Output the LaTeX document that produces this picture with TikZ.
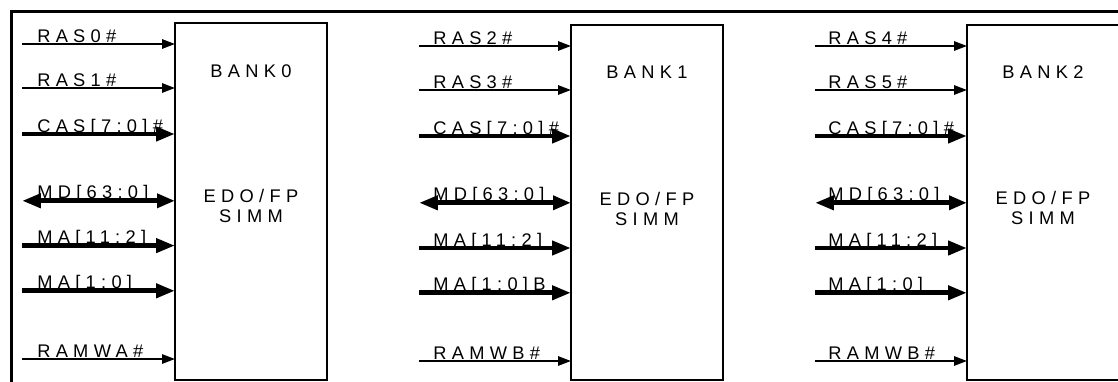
\documentclass[tikz,border=0pt]{standalone}
\usepackage{fontspec}
\newfontfamily\banksf[LetterSpace=29]{Liberation Sans}
\usetikzlibrary{arrows.meta}

\begin{document}
\begin{tikzpicture}[
  font=\banksf\fontsize{13pt}{14.2pt}\selectfont,
  bank/.style={rectangle, draw, line width=1.4pt, anchor=north west, inner sep=0pt, outer sep=0pt, minimum width=3.8cm},
  sig/.style={anchor=base west, inner sep=0pt},
  one/.style={line width=1.3pt, -{Triangle[length=0.32cm, width=0.23cm]}},
  bus/.style={line width=3.4pt, -{Triangle[length=0.47cm, width=0.34cm]}},
  bidi/.style={line width=3.4pt, {Triangle[length=0.47cm, width=0.34cm]}-{Triangle[length=0.45cm, width=0.34cm]}}
]
\clip (0,0) rectangle (27.95,-9.525);
\draw[line width=2.3pt] (0.28,-10) |- (28.5,-0.29);
% banks
\node[bank, minimum height=8.925cm] (k0) at (4.375,-0.575)  {};
\node[bank, minimum height=8.875cm] (k1) at (14.275,-0.625) {};
\node[bank, minimum height=8.875cm] (k2) at (24.175,-0.625) {};
\node (t0) at (6.275,-1.79)  {BANK0};
\node (t1) at (16.175,-1.81) {BANK1};
\node (t2) at (26.075,-1.80) {BANK2};
\node[align=center] (e0) at (6.275,-5.14)  {EDO/FP\\SIMM};
\node[align=center] (e1) at (16.175,-5.22) {EDO/FP\\SIMM};
\node[align=center] (e2) at (26.075,-5.20) {EDO/FP\\SIMM};
% bank 0 signals
\coordinate (ras0) at (0.55,-1.1);   \node[sig] (ras0t) at (0.925,-1.05)  {RAS0\#};
\coordinate (ras1) at (0.55,-2.2);   \node[sig] (ras1t) at (0.925,-2.15)  {RAS1\#};
\coordinate (cas0) at (0.55,-3.35);  \node[sig] (cas0t) at (0.925,-3.30)  {CAS[7:0]\#};
\coordinate (md0)  at (0.55,-5.02);  \node[sig] (md0t)  at (0.925,-4.97)  {MD[63:0]};
\coordinate (mah0) at (0.55,-6.14);  \node[sig] (mah0t) at (0.925,-6.09)  {MA[11:2]};
\coordinate (mal0) at (0.55,-7.27);  \node[sig] (mal0t) at (0.925,-7.22)  {MA[1:0]};
\coordinate (we0)  at (0.55,-8.975); \node[sig] (we0t)  at (0.925,-8.925) {RAMWA\#};
\draw[one] (ras0)--(ras0 -| k0.west); \draw[one] (ras1)--(ras1 -| k0.west);
\draw[bus] (cas0)--(cas0 -| k0.west); \draw[bidi] (md0)--(md0 -| k0.west);
\draw[bus] (mah0)--(mah0 -| k0.west); \draw[bus] (mal0)--(mal0 -| k0.west);
\draw[one] (we0)--(we0 -| k0.west);
% bank 1 signals
\coordinate (ras2) at (10.475,-1.15);  \node[sig] (ras2t) at (10.825,-1.10)  {RAS2\#};
\coordinate (ras3) at (10.475,-2.25);  \node[sig] (ras3t) at (10.825,-2.20)  {RAS3\#};
\coordinate (cas1) at (10.475,-3.40);  \node[sig] (cas1t) at (10.825,-3.35)  {CAS[7:0]\#};
\coordinate (md1)  at (10.475,-5.07);  \node[sig] (md1t)  at (10.825,-5.02)  {MD[63:0]};
\coordinate (mah1) at (10.475,-6.20);  \node[sig] (mah1t) at (10.825,-6.15)  {MA[11:2]};
\coordinate (mal1) at (10.475,-7.32);  \node[sig] (mal1t) at (10.825,-7.27)  {MA[1:0]B};
\coordinate (we1)  at (10.475,-9.025); \node[sig] (we1t)  at (10.825,-8.975) {RAMWB\#};
\draw[one] (ras2)--(ras2 -| k1.west); \draw[one] (ras3)--(ras3 -| k1.west);
\draw[bus] (cas1)--(cas1 -| k1.west); \draw[bidi] (md1)--(md1 -| k1.west);
\draw[bus] (mah1)--(mah1 -| k1.west); \draw[bus] (mal1)--(mal1 -| k1.west);
\draw[one] (we1)--(we1 -| k1.west);
% bank 2 signals
\coordinate (ras4) at (20.375,-1.15);  \node[sig] (ras4t) at (20.70,-1.10)  {RAS4\#};
\coordinate (ras5) at (20.375,-2.25);  \node[sig] (ras5t) at (20.70,-2.20)  {RAS5\#};
\coordinate (cas2) at (20.375,-3.40);  \node[sig] (cas2t) at (20.70,-3.35)  {CAS[7:0]\#};
\coordinate (md2)  at (20.375,-5.07);  \node[sig] (md2t)  at (20.70,-5.02)  {MD[63:0]};
\coordinate (mah2) at (20.375,-6.20);  \node[sig] (mah2t) at (20.70,-6.15)  {MA[11:2]};
\coordinate (mal2) at (20.375,-7.32);  \node[sig] (mal2t) at (20.70,-7.27)  {MA[1:0]};
\coordinate (we2)  at (20.375,-9.025); \node[sig] (we2t)  at (20.70,-8.975) {RAMWB\#};
\draw[one] (ras4)--(ras4 -| k2.west); \draw[one] (ras5)--(ras5 -| k2.west);
\draw[bus] (cas2)--(cas2 -| k2.west); \draw[bidi] (md2)--(md2 -| k2.west);
\draw[bus] (mah2)--(mah2 -| k2.west); \draw[bus] (mal2)--(mal2 -| k2.west);
\draw[one] (we2)--(we2 -| k2.west);
\end{tikzpicture}
\end{document}
